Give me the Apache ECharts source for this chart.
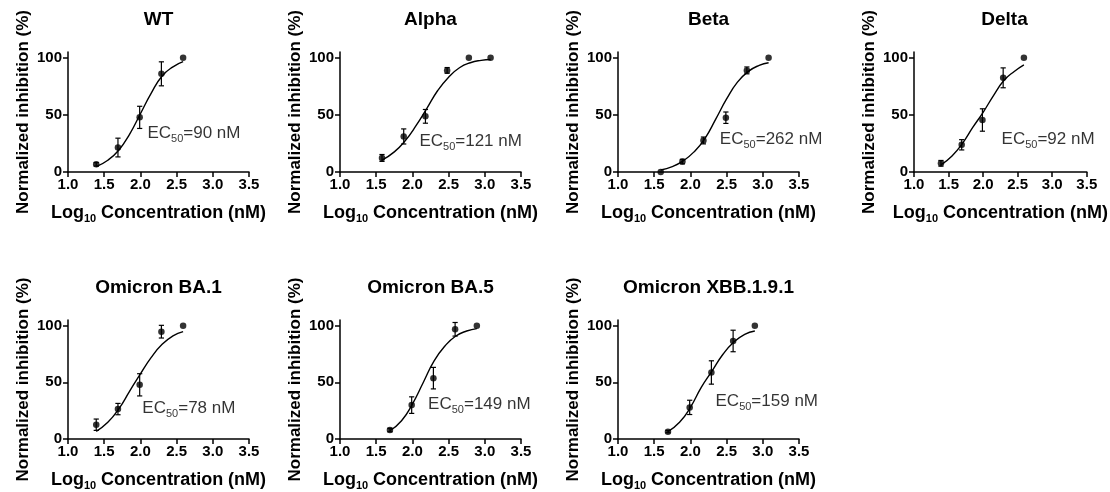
<!DOCTYPE html>
<html><head><meta charset="utf-8">
<script src="https://cdn.jsdelivr.net/npm/echarts@6/dist/echarts.min.js"></script>
<style>html,body{margin:0;padding:0;background:#fff}#c{width:1110px;height:492px}</style>
</head><body><div id="c"></div>
<script>
// ---------------- DATA ----------------
const panelTitles = ['WT', 'Alpha', 'Beta', 'Delta', 'Omicron BA.1', 'Omicron BA.5', 'Omicron XBB.1.9.1'];
const ec50Values = ['90', '121', '262', '92', '78', '149', '159'];
const xTickValues = [1.0, 1.5, 2.0, 2.5, 3.0, 3.5];
const yTickValues = [0, 50, 100];

const wtLogConc = [1.39, 1.69, 1.99, 2.29, 2.59];
const wtMean = [6.7, 21.4, 47.8, 85.9, 100];
const wtSem = [1.5, 8.2, 9.7, 10.5, 0];
const wtFitX = [1.39, 1.55, 1.70, 1.85, 2.00, 2.15, 2.30, 2.45, 2.59];
const wtFitY = [4.7, 10.3, 19, 33, 51, 69, 84, 92, 96.5];

const alphaLogConc = [1.58, 1.88, 2.18, 2.48, 2.78, 3.08];
const alphaMean = [12.3, 31.1, 48.7, 88.9, 100, 100];
const alphaSem = [3, 6.6, 6, 2.5, 0, 0];
const alphaFitX = [1.58, 1.75, 1.90, 2.05, 2.20, 2.35, 2.50, 2.65, 2.80, 2.95, 3.08];
const alphaFitY = [10.3, 17.6, 27.3, 40.5, 55.7, 71.3, 83, 91.2, 95.6, 97.7, 98.5];

const betaLogConc = [1.59, 1.89, 2.18, 2.49, 2.78, 3.08];
const betaMean = [0, 9.1, 27.6, 47.5, 88.9, 100];
const betaSem = [0, 2, 3, 5, 3, 0];
const betaFitX = [1.59, 1.75, 1.90, 2.05, 2.20, 2.35, 2.50, 2.65, 2.80, 2.95, 3.08];
const betaFitY = [1.8, 4.7, 9.7, 17.6, 29.3, 46.3, 63.9, 78.6, 88, 93.3, 95.6];

const deltaLogConc = [1.39, 1.69, 1.99, 2.29, 2.59];
const deltaMean = [7.6, 23.8, 45.5, 82.4, 100];
const deltaSem = [2.5, 4.5, 9.8, 8.7, 0];
const deltaFitX = [1.39, 1.55, 1.70, 1.85, 2.00, 2.15, 2.30, 2.45, 2.59];
const deltaFitY = [6.2, 14.1, 24.9, 39, 52.2, 66.9, 80, 88, 93.8];

const ba1LogConc = [1.39, 1.69, 1.99, 2.29, 2.59];
const ba1Mean = [12.6, 26.4, 47.8, 94.7, 100];
const ba1Sem = [5, 5, 9.8, 5.6, 0];
const ba1FitX = [1.39, 1.55, 1.70, 1.85, 2.00, 2.15, 2.30, 2.45, 2.59];
const ba1FitY = [6.7, 14.7, 26.4, 42, 57.5, 72, 83.5, 91, 94.7];

const ba5LogConc = [1.69, 1.99, 2.29, 2.59, 2.89];
const ba5Mean = [7.9, 29.9, 53.7, 96.8, 100];
const ba5Sem = [1.5, 7.3, 9.5, 6, 0];
const ba5FitX = [1.69, 1.85, 2.00, 2.15, 2.30, 2.45, 2.60, 2.75, 2.89];
const ba5FitY = [7.3, 16.1, 30.8, 49.9, 68.9, 82.1, 90.9, 95.3, 97.4];

const xbbLogConc = [1.69, 1.99, 2.29, 2.59, 2.89];
const xbbMean = [6.5, 27.9, 58.7, 86.5, 100];
const xbbSem = [1, 6.3, 10.3, 9.5, 0];
const xbbFitX = [1.69, 1.85, 2.00, 2.15, 2.30, 2.45, 2.60, 2.75, 2.89];
const xbbFitY = [6.5, 14.7, 27.9, 45.5, 60.1, 74.8, 85.6, 92.4, 95.3];

// ---------------- LAYOUT (not data) ----------------
const panels = [
  { x: wtLogConc, m: wtMean, e: wtSem, fx: wtFitX, fy: wtFitY },
  { x: alphaLogConc, m: alphaMean, e: alphaSem, fx: alphaFitX, fy: alphaFitY },
  { x: betaLogConc, m: betaMean, e: betaSem, fx: betaFitX, fy: betaFitY },
  { x: deltaLogConc, m: deltaMean, e: deltaSem, fx: deltaFitX, fy: deltaFitY },
  { x: ba1LogConc, m: ba1Mean, e: ba1Sem, fx: ba1FitX, fy: ba1FitY },
  { x: ba5LogConc, m: ba5Mean, e: ba5Sem, fx: ba5FitX, fy: ba5FitY },
  { x: xbbLogConc, m: xbbMean, e: xbbSem, fx: xbbFitX, fy: xbbFitY }
];
const colLeft = [68, 340, 618, 914];
const rowTop = [52, 320];
const plotW = 181, plotH = 120;
// anchor (data coords) of the EC50 annotation
const annotAnchor = [[2.09, 33.6], [2.09, 26.9], [2.40, 28.3], [2.26, 28.9], [2.02, 26.9], [2.21, 30.6], [2.34, 33.0]];

const FONT = 'Liberation Sans, Arial, sans-serif';
const BLACK = '#000';

const grids = [], xAxes = [], yAxes = [], titles = [], series = [];

panels.forEach((p, i) => {
  const row = i < 4 ? 0 : 1;
  const col = i < 4 ? i : i - 4;
  const left = colLeft[col], top = rowTop[row];
  grids.push({ left: left, top: top, width: plotW, height: plotH, containLabel: false });
  titles.push({
    text: panelTitles[i], left: left + plotW / 2, top: top - 42, textAlign: 'center', padding: 0,
    textStyle: { fontFamily: FONT, fontSize: 19, fontWeight: 'bold', color: BLACK }
  });
  xAxes.push({
    type: 'value', gridIndex: i, min: 1.0, max: 3.5, interval: 0.5,
    name: 'Log{sub|10} Concentration (nM)', nameLocation: 'middle', nameGap: 30,
    nameTextStyle: {
      fontFamily: FONT, fontSize: 18, fontWeight: 'bold', color: BLACK, lineHeight: 22,
      rich: { sub: { fontFamily: FONT, fontSize: 11, fontWeight: 'bold', color: BLACK, lineHeight: 11, verticalAlign: 'bottom' } }
    },
    axisLine: { show: true, onZero: false, lineStyle: { color: BLACK, width: 1.5 } },
    axisTick: { show: true, length: 5, inside: false, lineStyle: { color: BLACK, width: 1.5 } },
    axisLabel: { show: true, margin: 5, fontFamily: FONT, fontSize: 15, fontWeight: 'bold', color: BLACK,
      formatter: v => v.toFixed(1), customValues: xTickValues },
    splitLine: { show: false }
  });
  yAxes.push({
    type: 'value', gridIndex: i, min: 0, max: 105, interval: 50,
    name: 'Normalized inhibition (%)', nameLocation: 'middle', nameGap: 36,
    nameTextStyle: { fontFamily: FONT, fontSize: 17, fontWeight: 'bold', color: BLACK },
    axisLine: { show: true, lineStyle: { color: BLACK, width: 1.5 } },
    axisTick: { show: true, length: 5, inside: false, customValues: yTickValues, lineStyle: { color: BLACK, width: 1.5 } },
    axisLabel: { show: true, margin: 6, fontFamily: FONT, fontSize: 15, fontWeight: 'bold', color: BLACK, customValues: yTickValues },
    splitLine: { show: false }
  });
  // fitted curve
  series.push({
    type: 'line', xAxisIndex: i, yAxisIndex: i, data: p.fx.map((x, k) => [x, p.fy[k]]),
    showSymbol: false, symbol: 'none', smooth: 0.5,
    lineStyle: { color: BLACK, width: 1.4 }, silent: true, z: 2
  });
  // error bars
  series.push({
    type: 'custom', xAxisIndex: i, yAxisIndex: i,
    data: p.x.map((x, k) => [x, p.m[k] - p.e[k], p.m[k] + p.e[k]]),
    renderItem: (params, api) => {
      const x = api.value(0), lo = api.value(1), hi = api.value(2);
      if (hi - lo <= 0) return null;
      const a = api.coord([x, hi]), b = api.coord([x, lo]);
      const w = 2.6, st = { stroke: BLACK, lineWidth: 1.2 };
      return { type: 'group', children: [
        { type: 'line', shape: { x1: a[0], y1: a[1], x2: b[0], y2: b[1] }, style: st },
        { type: 'line', shape: { x1: a[0] - w, y1: a[1], x2: a[0] + w, y2: a[1] }, style: st },
        { type: 'line', shape: { x1: b[0] - w, y1: b[1], x2: b[0] + w, y2: b[1] }, style: st }
      ] };
    },
    silent: true, z: 3
  });
  // mean points
  series.push({
    type: 'scatter', xAxisIndex: i, yAxisIndex: i, data: p.x.map((x, k) => [x, p.m[k]]),
    symbol: 'circle', symbolSize: 6.5, itemStyle: { color: BLACK }, silent: true, z: 4
  });
  // EC50 annotation
  series.push({
    type: 'scatter', xAxisIndex: i, yAxisIndex: i, data: [annotAnchor[i]],
    symbolSize: 1, itemStyle: { color: 'rgba(0,0,0,0)' }, silent: true, z: 5,
    label: {
      show: true, position: 'right', distance: 0,
      formatter: '{m|EC}{s|50}{m|=' + ec50Values[i] + ' nM}',
      rich: {
        m: { fontFamily: FONT, fontSize: 17, color: BLACK, lineHeight: 22 },
        s: { fontFamily: FONT, fontSize: 11, color: BLACK, lineHeight: 7, verticalAlign: 'bottom' }
      }
    }
  });
});

const chart = echarts.init(document.getElementById('c'), null, { renderer: 'canvas' });
chart.setOption({
  animation: false,
  backgroundColor: '#fff',
  title: titles,
  grid: grids,
  xAxis: xAxes,
  yAxis: yAxes,
  series: series
});
</script>
</body></html>
